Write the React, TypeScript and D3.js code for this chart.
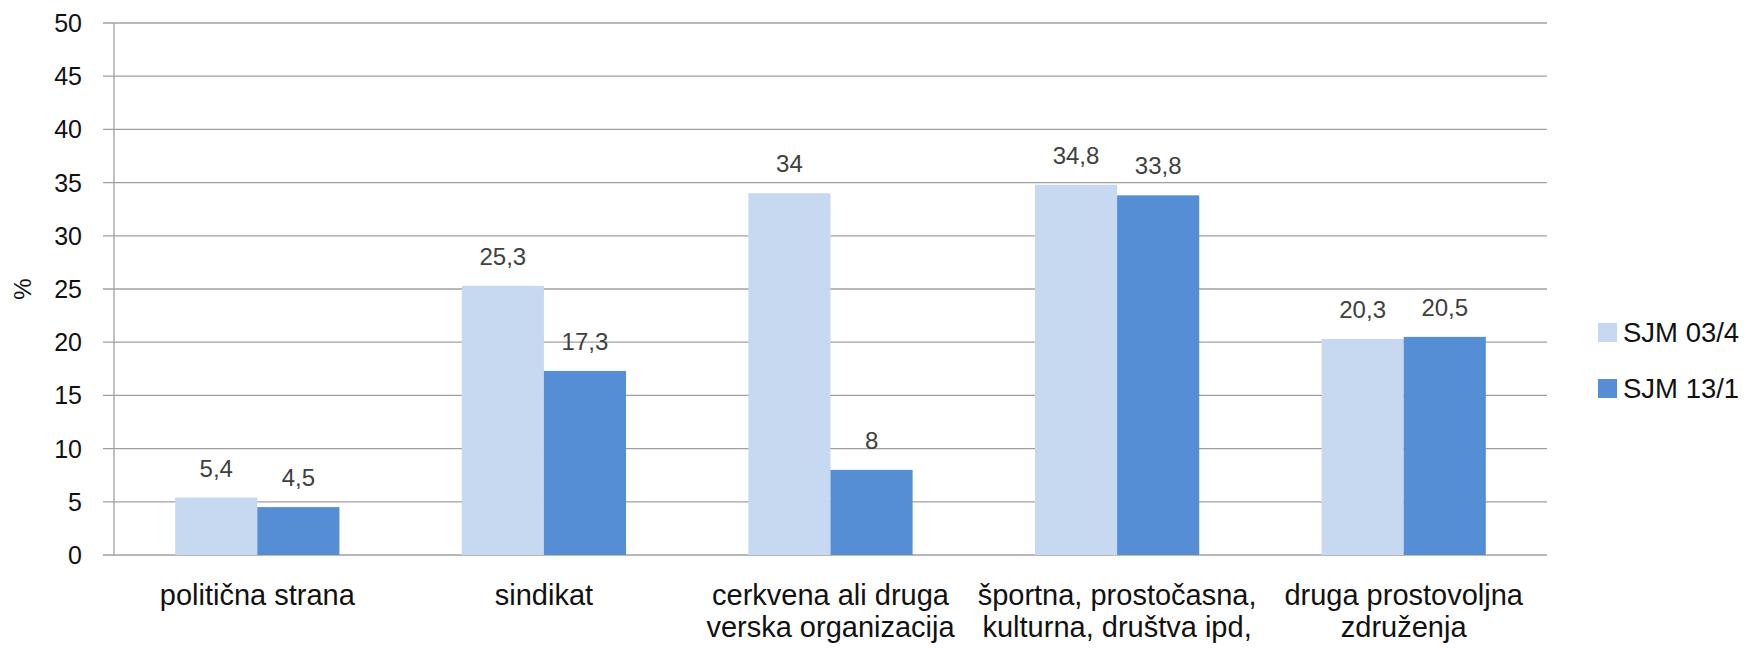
import React from "react";
import * as d3 from "d3";

const categories: string[][] = [
  ["politična strana"],
  ["sindikat"],
  ["cerkvena ali druga", "verska organizacija"],
  ["športna, prostočasna,", "kulturna, društva ipd,"],
  ["druga prostovoljna", "združenja"],
];
const seriesNames = ["SJM 03/4", "SJM 13/1"];
const seriesA = [5.4, 25.3, 34, 34.8, 20.3];
const seriesB = [4.5, 17.3, 8, 33.8, 20.5];
const valueLabelsA = ["5,4", "25,3", "34", "34,8", "20,3"];
const valueLabelsB = ["4,5", "17,3", "8", "33,8", "20,5"];
const yTicks = [0, 5, 10, 15, 20, 25, 30, 35, 40, 45, 50];
const colors = ["#c6d9f0", "#558ed5"];

const W = 1746;
const H = 651;
const left = 114;
const right = 1547;
const top = 23;
const bottom = 555;
const font = "'Liberation Sans', Arial, sans-serif";

export default function App() {
  const idx = categories.map((_, i) => String(i));
  const x0 = d3.scaleBand<string>().domain(idx).range([left, right]).padding(0);
  const x1 = d3
    .scaleBand<string>()
    .domain(seriesNames)
    .range([0, x0.bandwidth()])
    .paddingInner(0)
    .paddingOuter(0.745);
  const y = d3.scaleLinear().domain([0, 50]).range([bottom, top]);
  const series = [seriesA, seriesB];
  const labels = [valueLabelsA, valueLabelsB];

  return (
    <svg
      width={W}
      height={H}
      style={{ position: "absolute", left: 0, top: 0, background: "#fff" }}
    >
      {yTicks.map((t) => (
        <g key={t}>
          <line x1={103} x2={right} y1={y(t)} y2={y(t)} stroke="#a0a0a0" strokeWidth={1.3} />
          <text
            x={82}
            y={y(t) + 9}
            textAnchor="end"
            fontFamily={font}
            fontSize={25}
            fill="#111"
          >
            {t}
          </text>
        </g>
      ))}
      <line x1={left} x2={left} y1={top} y2={bottom} stroke="#a0a0a0" strokeWidth={1.3} />
      <text
        transform={`translate(31,${289}) rotate(-90)`}
        textAnchor="middle"
        fontFamily={font}
        fontSize={24}
        fill="#111"
      >
        %
      </text>
      {series.map((vals, s) =>
        vals.map((v, i) => {
          const bx = (x0(String(i)) as number) + (x1(seriesNames[s]) as number);
          return (
            <g key={`${s}-${i}`}>
              <rect
                x={bx}
                y={y(v)}
                width={x1.bandwidth()}
                height={y(0) - y(v)}
                fill={colors[s]}
              />
              <text
                x={bx + x1.bandwidth() / 2}
                y={y(v) - 21}
                textAnchor="middle"
                fontFamily={font}
                fontSize={24}
                fill="#404040"
              >
                {labels[s][i]}
              </text>
            </g>
          );
        })
      )}
      {categories.map((lines, i) => (
        <text
          key={i}
          x={(x0(String(i)) as number) + x0.bandwidth() / 2}
          y={605}
          textAnchor="middle"
          fontFamily={font}
          fontSize={29}
          fill="#111"
        >
          {lines.map((ln, j) => (
            <tspan key={j} x={(x0(String(i)) as number) + x0.bandwidth() / 2} dy={j === 0 ? 0 : 32}>
              {ln}
            </tspan>
          ))}
        </text>
      ))}
      {seriesNames.map((n, s) => (
        <g key={n}>
          <rect x={1598} y={323 + s * 56} width={19} height={19} fill={colors[s]} />
          <text x={1623} y={342 + s * 56} fontFamily={font} fontSize={27.5} fill="#111">
            {n}
          </text>
        </g>
      ))}
    </svg>
  );
}
